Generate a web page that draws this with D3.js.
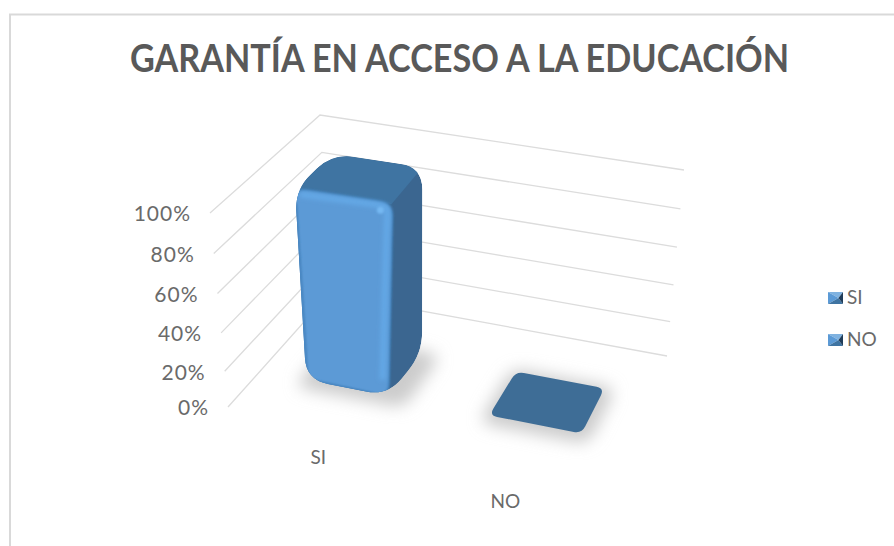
<!DOCTYPE html>
<html lang="es">
<head>
<meta charset="UTF-8">
<title>Garantía en acceso a la educación</title>
<script src="https://d3js.org/d3.v7.min.js"></script>
<style>
  html, body { margin: 0; padding: 0; background: #fff; overflow: hidden; }
  text { font-family: Lato, "Open Sans", sans-serif; fill: #6a6a6a; }
  #title { font-size: 37.5px; font-weight: 700; fill: #595959; }
</style>
</head>
<body>
<svg width="894" height="546"></svg>
<script>
const categories = ["SI", "NO"];
const values = [100, 0];
const ticks = [0, 20, 40, 60, 80, 100];
const titleText = "GARANTÍA EN ACCESO A LA EDUCACIÓN";

const svg = d3.select("svg");
const width = 894, height = 546;

// chart box corners in pixels: [u][d] for floor (0%) and ceiling (100%)
const floor = { fl: [228, 407], fr: [609, 483], bl: [329, 294], br: [667, 356] };
const ceil  = { fl: [210, 213], fr: [625, 278], bl: [320, 115], br: [684, 170] };

const uScale = d3.scaleBand().domain(categories).range([0.125, 0.875]).paddingInner(0.495).paddingOuter(0);
const dRange = [0.32, 0.68];
// the picture has a little perspective, so the steps get slightly bigger going up
const vScale = d3.scalePow().exponent(1.05).domain([0, 100]).range([0, 1]);
const fmt = d => d + "%";

function bilin(c, u, d) {
  return [0, 1].map(i =>
    (1 - u) * (1 - d) * c.fl[i] + u * (1 - d) * c.fr[i] + (1 - u) * d * c.bl[i] + u * d * c.br[i]);
}
function project(u, d, v) {
  const a = bilin(floor, u, d), b = bilin(ceil, u, d), t = vScale(v);
  return [a[0] + (b[0] - a[0]) * t, a[1] + (b[1] - a[1]) * t];
}

// closed path with rounded corners
function rounded(pts, r) {
  let s = "";
  pts.forEach((p, i) => {
    const prev = pts[(i + pts.length - 1) % pts.length], next = pts[(i + 1) % pts.length];
    const d1 = Math.hypot(prev[0] - p[0], prev[1] - p[1]), d2 = Math.hypot(next[0] - p[0], next[1] - p[1]);
    const r1 = Math.min(r, d1 / 2), r2 = Math.min(r, d2 / 2);
    const a = [p[0] + (prev[0] - p[0]) * r1 / d1, p[1] + (prev[1] - p[1]) * r1 / d1];
    const b = [p[0] + (next[0] - p[0]) * r2 / d2, p[1] + (next[1] - p[1]) * r2 / d2];
    s += (i ? "L" : "M") + a[0] + "," + a[1] + "Q" + p[0] + "," + p[1] + " " + b[0] + "," + b[1];
  });
  return s + "Z";
}

const defs = svg.append("defs");
[["blurShadow", 8], ["blurEdge", 1.1], ["blurGlow", 2.2]].forEach(([id, sd]) => {
  defs.append("filter").attr("id", id)
    .attr("x", "-40%").attr("y", "-40%").attr("width", "180%").attr("height", "180%")
    .append("feGaussianBlur").attr("stdDeviation", sd);
});

// frame of the pasted chart
svg.append("path").attr("d", `M10,${height}V14.5H${width}`)
  .attr("fill", "none").attr("stroke", "#d9d9d9").attr("stroke-width", 2);

// title
svg.append("text").attr("id", "title")
  .attr("x", 459.5).attr("y", 72).attr("text-anchor", "middle")
  .attr("textLength", 659).attr("lengthAdjust", "spacingAndGlyphs").text(titleText);

// gridlines on side wall and back wall
svg.append("g").selectAll("path").data(ticks).join("path")
  .attr("d", v => d3.line()([project(0, 0, v), project(0, 1, v), project(1, 1, v)]))
  .attr("fill", "none").attr("stroke", "#dcdcdc").attr("stroke-width", 1.3);

// value labels
svg.append("g").selectAll("text").data(ticks).join("text")
  .attr("x", v => project(0, 0, v)[0] - 19)
  .attr("y", v => project(0, 0, v)[1] + 1)
  .attr("dy", "0.35em").attr("text-anchor", "end")
  .style("font-size", "21px").style("letter-spacing", "1px").text(fmt);

// category labels
svg.append("g").selectAll("text").data(categories).join("text")
  .attr("x", c => project(0.25, 0, 0)[0] - 5 + 187 * categories.indexOf(c))
  .attr("y", c => project(0.25, 0, 0)[1] + 31 + 44 * categories.indexOf(c))
  .attr("dy", "0.35em").attr("text-anchor", "middle")
  .style("font-size", "19px").text(c => c);

// bars
categories.forEach((c, i) => {
  const u0 = uScale(c), u1 = u0 + uScale.bandwidth(), d0 = dRange[0], d1 = dRange[1], v = values[i];
  const g = svg.append("g");

  // soft shadow on the floor
  g.append("path")
    .attr("d", rounded([project(u0 - 0.015, d0 - 0.07, 0), project(u1 + 0.03, d0 - 0.07, 0),
                        project(u1 + 0.03, d1 + 0.02, 0), project(u0 - 0.015, d1 + 0.02, 0)], 14))
    .attr("fill", "#cccccc").attr("filter", "url(#blurShadow)");

  if (v === 0) {
    // no height: only the flat lid is left
    g.append("path")
      .attr("d", rounded([project(u0, d0, 0), project(u1, d0, 0), project(u1, d1, 0), project(u0, d1, 0)], 8))
      .attr("fill", "#3e6d96");
    return;
  }

  // the bar narrows a little towards the floor on its right side
  const fbl = project(u0, d0, 0), fbr = project(u1 - 0.03, d0, 0), bbr = project(u1 - 0.02, d1, 0);
  const ftl = project(u0, d0, v), ftr = project(u1 - 0.01, d0, v), btr = project(u1 - 0.015, d1, v), btl = project(u0, d1, v);
  const outline = rounded([fbl, fbr, bbr, btr, btl, ftl], 22);
  const clipId = "clip" + i;
  defs.append("clipPath").attr("id", clipId).append("path").attr("d", outline);

  const body = g.append("g").attr("clip-path", `url(#${clipId})`);
  // side face
  body.append("path").attr("d", outline).attr("fill", "#3b6690");
  // top face
  body.append("path").attr("d", d3.line()([ftl, ftr, btr, btl]) + "Z").attr("fill", "#3f74a2");
  // rim between faces
  body.append("path").attr("d", rounded([fbl, fbr, ftr, ftl], 12))
    .attr("fill", "#2f6fa8").attr("stroke", "#3f7fb8").attr("stroke-width", 4).attr("filter", "url(#blurEdge)");
  // front face
  body.append("path").attr("d", rounded([fbl, fbr, ftr, ftl], 12))
    .attr("fill", "#5b9ad6").attr("stroke", "#5b9ad6").attr("stroke-width", 1).attr("filter", "url(#blurEdge)");
  // bevel highlight along top and right of the front face
  const inset = 5;
  body.append("path")
    .attr("d", d3.line().curve(d3.curveBasis)([
      [ftl[0] + inset, ftl[1] + inset], [ftr[0] - 10, ftr[1] + 1], [ftr[0] - 3, ftr[1] + 3],
      [ftr[0] - 5, ftr[1] + 16], [fbr[0] - 5, fbr[1] - 16]]))
    .attr("fill", "none").attr("stroke", "#64a8e6").attr("stroke-width", 6).attr("filter", "url(#blurGlow)");
  // small bright spot where the bevels meet
  body.append("circle").attr("cx", ftr[0] - 11).attr("cy", ftr[1] + 6).attr("r", 3.5)
    .attr("fill", "#74b8f2").attr("filter", "url(#blurEdge)");
  // darker lower rim
  body.append("path")
    .attr("d", d3.line().curve(d3.curveBasis)([[ftl[0] + 1, ftl[1] + 14], [fbl[0] + 1, fbl[1] - 14], fbl, [fbl[0] + 14, fbl[1] + 2], [fbr[0] - 10, fbr[1] - 1]]))
    .attr("fill", "none").attr("stroke", "#3e7cb6").attr("stroke-width", 1.6).attr("filter", "url(#blurEdge)");
});

// legend
const legendRows = svg.append("g").selectAll("g").data(categories).join("g")
  .attr("transform", (c, i) => `translate(828,${292 + i * 42})`);
const sw = 15, sh = 12;
[
  [[0, 0], [sw, 0], [sw / 2 + 3, sh / 2], "#7fb2e0"],
  [[0, 0], [sw / 2 + 3, sh / 2], [0, sh], "#5b9ad6"],
  [[0, sh], [sw / 2 + 3, sh / 2], [sw, sh], "#3f74a2"],
  [[sw, 0], [sw / 2 + 3, sh / 2], [sw, sh], "#1f3c59"]
].forEach(t => {
  legendRows.append("path").attr("d", d3.line()(t.slice(0, 3)) + "Z").attr("fill", t[3]);
});
legendRows.append("text").attr("x", 19).attr("y", sh / 2 - 1).attr("dy", "0.35em")
  .style("font-size", "19px").text(c => c);
</script>
</body>
</html>
